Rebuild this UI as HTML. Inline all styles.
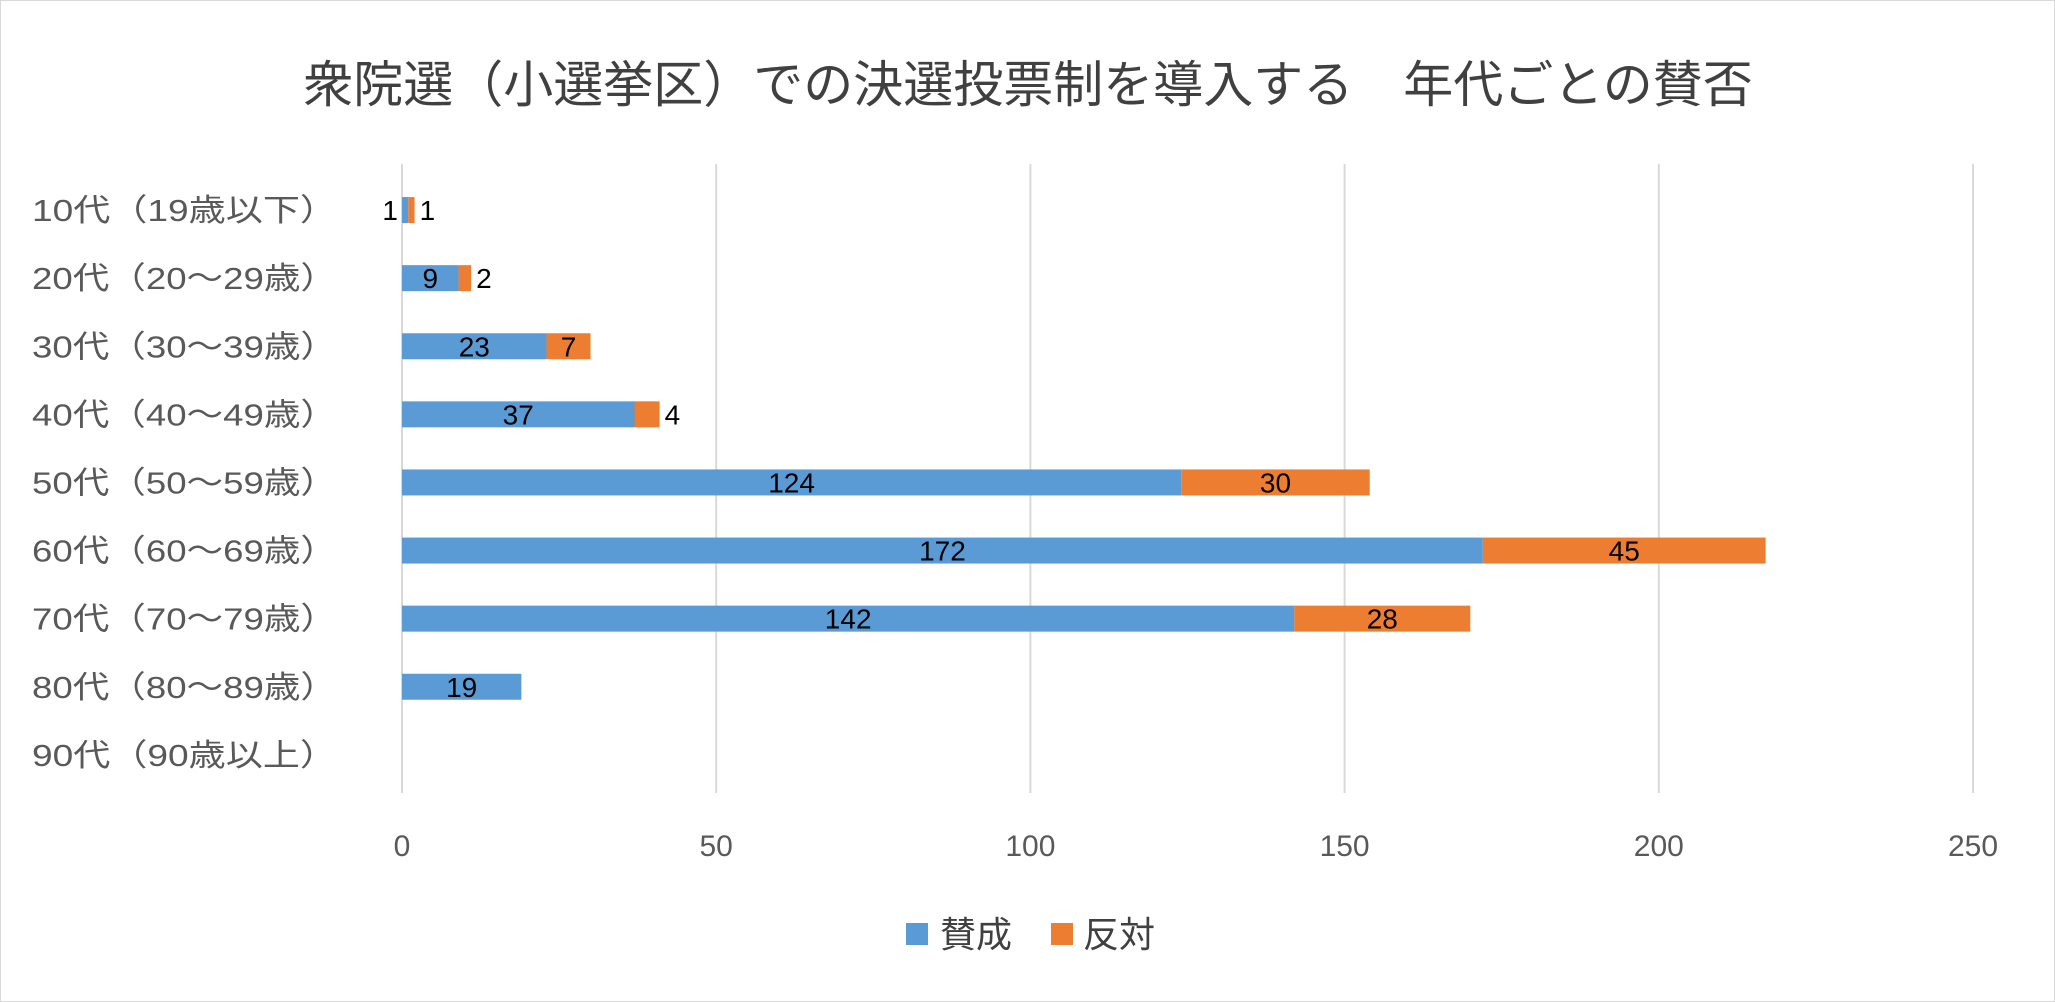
<!DOCTYPE html>
<html><head><meta charset="utf-8"><style>
html,body{margin:0;padding:0;background:#fff;}
svg{display:block;font-family:"Liberation Sans","Noto Sans CJK JP",sans-serif;}
</style></head><body>
<svg id="chart" width="2055" height="1002" viewBox="0 0 2055 1002" xmlns="http://www.w3.org/2000/svg">
<rect x="0.5" y="0.5" width="2054" height="1001" fill="#fff" stroke="#d9d9d9"/>
<text x="1028" y="102" text-anchor="middle" font-size="50" fill="#404040">衆院選（小選挙区）での決選投票制を導入する　年代ごとの賛否</text>
<g id="grid"></g><g id="bars"></g><g id="labels"></g>
<g>
<rect x="906" y="923" width="22" height="22" fill="#5b9bd5"/>
<text x="940" y="947" font-size="36" fill="#404040">賛成</text>
<rect x="1051" y="923" width="22" height="22" fill="#ed7d31"/>
<text x="1083" y="947" font-size="36" fill="#404040">反対</text>
</g>
</svg>
<script>
const categories=["10代（19歳以下）","20代（20〜29歳）","30代（30〜39歳）","40代（40〜49歳）","50代（50〜59歳）","60代（60〜69歳）","70代（70〜79歳）","80代（80〜89歳）","90代（90歳以上）"];
const yesValues=[1,9,23,37,124,172,142,19,0];
const noValues=[1,2,7,4,30,45,28,0,0];
const ticks=[0,50,100,150,200,250];
(function(){
const NS="http://www.w3.org/2000/svg";
const x0=402,x1=1973,maxV=250,gTop=164,gBottom=793,rowTop=176,rowStep=68.1,barH=26;
const xs=v=>x0+(x1-x0)*v/maxV;
const yc=i=>rowTop+rowStep*(i+0.5);
function mk(tag,attrs,parent){const e=document.createElementNS(NS,tag);for(const k in attrs)e.setAttribute(k,attrs[k]);parent.appendChild(e);return e;}
const grid=document.getElementById('grid'),bars=document.getElementById('bars'),labels=document.getElementById('labels');
ticks.forEach(t=>{
 const l=mk('line',{x1:xs(t),x2:xs(t),y1:gTop,y2:gBottom,stroke:'#d9d9d9','stroke-width':2},grid);
 
 
 const tx=mk('text',{x:xs(t),y:856,'text-anchor':'middle','font-size':30,fill:'#595959'},grid);
 tx.textContent=t;
 
 
});
categories.forEach((c,i)=>{
 const y=yc(i);
 const ct=mk('text',{x:32,y:y+11,'font-size':31,fill:'#595959',textLength:305,lengthAdjust:'spacingAndGlyphs'},labels);
 ct.textContent=c;
 
 
 const segs=[[0,yesValues[i],'#5b9bd5','yes'],[yesValues[i],yesValues[i]+noValues[i],'#ed7d31','no']];
 segs.forEach(([a,b,col,nm])=>{
  if(b<=a)return;
  const r=mk('rect',{x:xs(a),y:y-barH/2,width:xs(b)-xs(a),height:barH,fill:col},bars);
  
  
  const v=b-a,w=xs(b)-xs(a);
  let lx=(xs(a)+xs(b))/2,anchor='middle';
  if(w<30){ if(nm==='yes'){lx=xs(a)-4;anchor='end';} else {lx=xs(b)+5;anchor='start';} }
  const t=mk('text',{x:lx,y:y+10,'text-anchor':anchor,'font-size':28,fill:'#000'},labels);
  t.textContent=v;
  
  
 });
});
})();
</script>
</body></html>
